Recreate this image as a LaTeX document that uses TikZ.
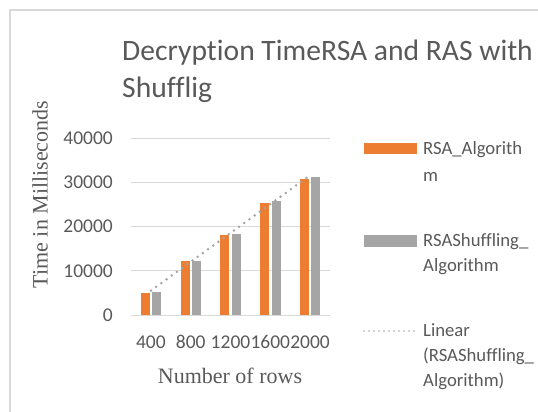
\documentclass[tikz,border=0pt]{standalone}
\usepackage{fontspec}
\setmainfont{Carlito}[Ligatures=NoCommon]
\newfontfamily\timesfont{Liberation Serif}
\definecolor{rsaorange}{HTML}{ED7D31}
\definecolor{shufgray}{HTML}{A5A5A5}
\definecolor{labgray}{HTML}{595959}
\definecolor{gridgray}{HTML}{D9D9D9}
\tikzset{
  ticklab/.style={text=labgray, font=\fontsize{19.5}{22}\selectfont, inner sep=0pt},
  legtext/.style={text=labgray, font=\fontsize{18.7}{22}\selectfont, inner sep=0pt, anchor=base west},
  titletext/.style={text=labgray, font=\fontsize{29.6}{34}\selectfont, inner sep=0pt, anchor=base west},
  axistitle/.style={text=labgray, font=\timesfont\fontsize{22}{26}\selectfont, inner sep=0pt},
  trend/.style={draw=shufgray, line width=2.8pt, line cap=round, dash pattern=on 0pt off 6.4pt},
}

\begin{document}
\begin{tikzpicture}[x=1pt, y=-1pt]
    \useasboundingbox (0,0) rectangle (538,412);
    % chart frame
    \draw[gridgray, line width=1.5pt] (10,412) -- (10,10) -- (538,10);
    % title
    \node[titletext] (title1) at (122,60) {Decryption TimeRSA and RAS with};
    \node[titletext] (title2) at (122,97) {Shufflig};
    % gridlines and value labels
    \foreach \k/\lab in {0/0, 1/10000, 2/20000, 3/30000, 4/40000} {
      \draw[gridgray, line width=1pt] (131,{315-44.25*\k}) -- (330,{315-44.25*\k});
      \node[ticklab, anchor=east] (ylab\k) at (113,{315-44.25*\k}) {\lab};
    }
    % bars (values in thousands)
    \foreach \i/\n/\a/\b in {1/400/4.97/5.26, 2/800/12.1/12.3, 3/1200/18.06/18.3,
                             4/1600/25.2/25.7, 5/2000/30.8/31.1} {
      \pgfmathsetmacro\cx{131+(\i-0.5)*39.8}
      \fill[rsaorange] (\cx-10.2,315) rectangle (\cx-1.2,{315-4.425*\a});
      \fill[shufgray] (\cx+1.2,315) rectangle (\cx+10.2,{315-4.425*\b});
      \node[ticklab, anchor=base] (xlab\i) at (\cx,348) {\n};
    }
    % linear trend
    \coordinate (trA) at (151,290.6);
    \coordinate (trB) at (310.2,175.2);
    \draw[trend] (trA) -- (trB);
    % axis titles
    \node[axistitle, rotate=90] (ytitle) at (40,194.5) {Time in Milliseconds};
    \node[axistitle, anchor=base] (xtitle) at (230,383) {Number of rows};
    % legend
    \fill[rsaorange] (364,142.7) rectangle (417,154.3);
    \node[legtext] (legA) at (423,154.3) {RSA\_Algorith};
    \node[legtext] (legAb) at (423,181) {m};
    \fill[shufgray] (364,235) rectangle (417,246.5);
    \node[legtext] (legB) at (423,246.7) {RSAShuffling\_};
    \node[legtext] (legBb) at (423,271.7) {Algorithm};
    \draw[trend, line width=1.6pt, dash pattern=on 0pt off 5pt] (364,331) -- (417,331);
    \node[legtext] (legC) at (423,336.7) {Linear};
    \node[legtext] (legCb) at (423,361.7) {(RSAShuffling\_};
    \node[legtext] (legCc) at (423,386.5) {Algorithm)};
  \end{tikzpicture}
\end{document}
